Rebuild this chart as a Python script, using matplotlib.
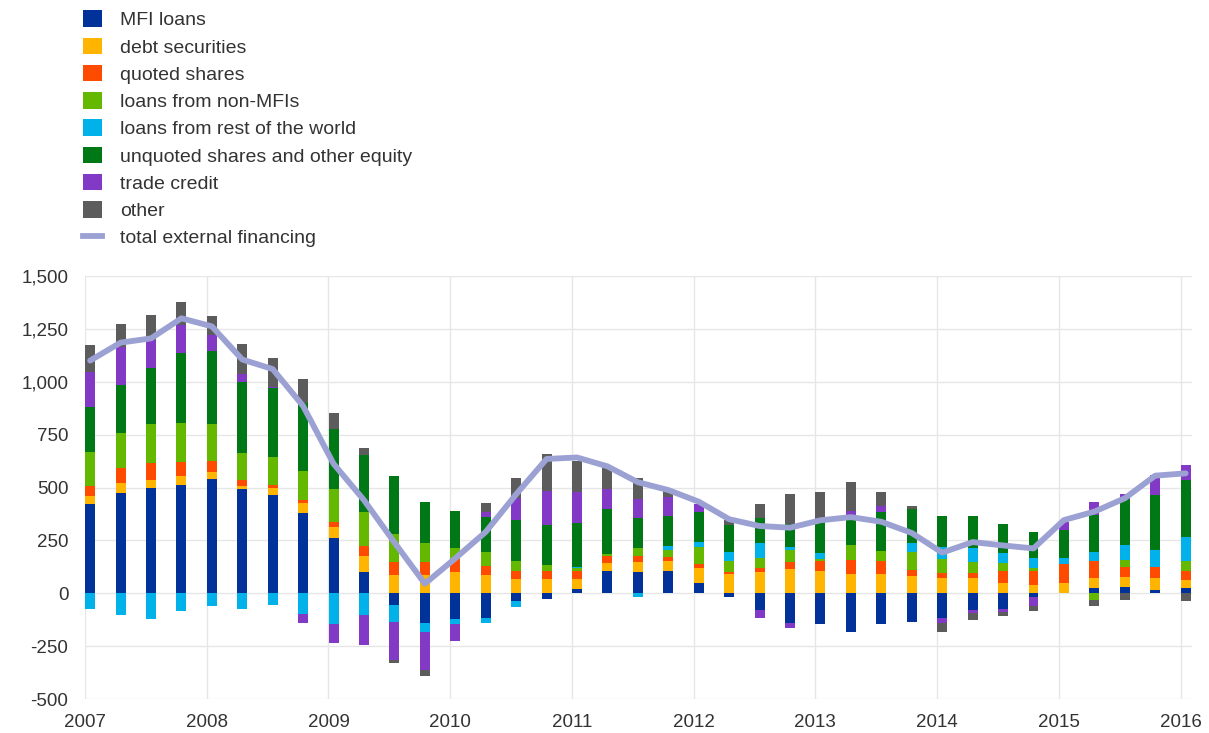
import numpy as np
import matplotlib
matplotlib.use("Agg")
import matplotlib.pyplot as plt
from matplotlib.patches import Patch
from matplotlib.lines import Line2D

plt.rcParams['font.family'] = ['Liberation Sans', 'DejaVu Sans']

# ---- data (EUR billions, quarterly 2007Q1 .. 2016Q1) ----
year_labels = ['2007', '2008', '2009', '2010', '2011', '2012', '2013', '2014', '2015', '2016']

mfi_loans = [422, 472, 500, 512, 538, 493, 464, 378, 260, 99, -55, -139, -123, -115, -39, -28,
             20, 107, 99, 105, 47, -19, -79, -142, -146, -181, -146, -137, -115, -79, -74, -16,
             0, 27, 31, 16, 24]
debt_securities = [38, 47, 35, 42, 33, 13, 35, 47, 55, 77, 87, 87, 102, 87, 68, 68,
                   47, 38, 47, 47, 71, 91, 102, 115, 107, 91, 90, 82, 71, 71, 50, 39,
                   50, 44, 47, 55, 39]
quoted_shares = [49, 71, 83, 68, 54, 30, 13, 16, 20, 47, 63, 63, 60, 42, 39, 38,
                 38, 31, 31, 20, 19, 8, 16, 35, 46, 66, 63, 28, 24, 24, 57, 66,
                 87, 82, 47, 55, 42]
loans_non_mfi = [157, 168, 184, 181, 173, 129, 134, 137, 157, 159, 129, 87, 54, 65, 46, 28,
                 13, 8, 35, 31, 83, 54, 47, 55, 9, 71, 47, 87, 68, 52, 35, 16,
                 0, -31, 31, 0, 47]
loans_row = [-74, -102, -121, -82, -58, -74, -55, -99, -146, -102, -83, -42, -24, -24, -24, 0,
             8, 0, -16, 20, 20, 41, 71, 12, 27, 0, 0, 39, 58, 66, 47, 47,
             28, 44, 71, 79, 115]
unquoted_equity = [216, 228, 263, 335, 346, 335, 323, 320, 283, 271, 275, 194, 175, 168, 194, 189,
                   205, 212, 142, 142, 145, 129, 118, 110, 157, 142, 186, 162, 146, 150, 137, 120,
                   134, 173, 217, 260, 268]
trade_credit = [162, 178, 131, 129, 79, 35, 8, -42, -90, -142, -176, -181, -79, 24, 105, 162,
                150, 96, 91, 90, 35, 0, -36, -20, 0, 20, 28, 0, -27, -16, -13, -42,
                36, 63, 27, 94, 71]
other = [129, 110, 121, 110, 88, 142, 137, 115, 77, 35, -16, -31, 0, 39, 91, 173,
         145, 105, 98, 27, 0, 24, 68, 142, 134, 137, 63, 16, -39, -31, -19, -25,
         0, -31, -31, 0, -36]
total_external = [1100, 1185, 1205, 1300, 1262, 1105, 1060, 885, 612, 440, 240, 45, 165, 290, 468, 635,
                  642, 600, 525, 488, 433, 350, 318, 310, 345, 360, 338, 285, 192, 242, 226, 212,
                  346, 386, 449, 556, 567]

series_names = ['MFI loans', 'debt securities', 'quoted shares', 'loans from non-MFIs',
                'loans from rest of the world', 'unquoted shares and other equity',
                'trade credit', 'other']
series_values = [mfi_loans, debt_securities, quoted_shares, loans_non_mfi, loans_row,
                 unquoted_equity, trade_credit, other]
series_colors = ['#003299', '#FFB400', '#FF4B00', '#65B800', '#00B1EA', '#007816',
                 '#8139C6', '#5C5C5C']
line_color = '#9CA1D4'
text_color = '#333333'

# ---- figure ----
W, H = 1209, 733
fig = plt.figure(figsize=(W / 100, H / 100), dpi=100)
ax = fig.add_axes([85 / W, 1 - 699 / H, (1191.5 - 85) / W, (699 - 276) / H])

n = len(total_external)
x = 2007 + 0.25 * np.arange(n) + 0.042
bar_w = 0.082

pos_base = np.zeros(n)
neg_base = np.zeros(n)
handles = []
for name, vals, col in zip(series_names, series_values, series_colors):
    v = np.asarray(vals, dtype=float)
    pos = np.where(v > 0, v, 0)
    neg = np.where(v < 0, v, 0)
    ax.bar(x, pos, bottom=pos_base, width=bar_w, color=col, linewidth=0, zorder=3)
    ax.bar(x, neg, bottom=neg_base, width=bar_w, color=col, linewidth=0, zorder=3)
    pos_base += pos
    neg_base += neg
    handles.append(Patch(facecolor=col, edgecolor='none', label=name))

ax.plot(x, total_external, color=line_color, lw=4.2, solid_joinstyle='round',
        solid_capstyle='round', zorder=5)
handles.append(Line2D([], [], color=line_color, lw=4.2, label='total external financing'))

ax.set_xlim(2007, 2016.09)
ax.set_ylim(-500, 1500)
yt = np.arange(-500, 1501, 250)
ax.set_yticks(yt)
ax.set_yticklabels([f'{v:,}' for v in yt])
ax.set_xticks([int(y) for y in year_labels])
ax.set_xticklabels(year_labels)
ax.grid(True, color='#e6e6e6', lw=1.0, zorder=0)
ax.set_axisbelow(True)
for s in ax.spines.values():
    s.set_visible(False)
ax.tick_params(axis='both', length=0, labelsize=13.5, colors=text_color)
ax.tick_params(axis='y', pad=12)
ax.tick_params(axis='x', pad=11)

fig.legend(handles=handles, loc='upper left', bbox_to_anchor=(83 / W, 1 - 10.5 / H),
           frameon=False, fontsize=14, handlelength=0.98, handleheight=0.93,
           handletextpad=0.92, labelspacing=0.425, borderpad=0, borderaxespad=0,
           labelcolor=text_color)

fig.savefig('out.png', dpi=100)
